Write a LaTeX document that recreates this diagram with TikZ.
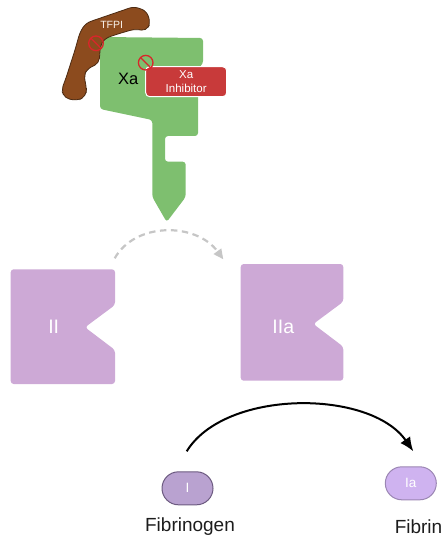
\documentclass[tikz,border=0pt]{standalone}
\usepackage{fontspec}
\setmainfont{Liberation Sans}
\usetikzlibrary{arrows.meta,shapes.misc}

\definecolor{xagreen}{HTML}{7EBF6F}
\definecolor{tfpibrown}{HTML}{8C4B1E}
\definecolor{tfpiedge}{HTML}{4B2A12}
\definecolor{inhred}{HTML}{C83A3A}
\definecolor{nored}{HTML}{D9262A}
\definecolor{prolilac}{HTML}{CDA9D6}
\definecolor{fgnfill}{HTML}{B9A2D0}
\definecolor{fgnedge}{HTML}{6C5A80}
\definecolor{fbnfill}{HTML}{CFB3F0}
\definecolor{fbnedge}{HTML}{9B86B3}
\definecolor{dashgray}{HTML}{C6C6C6}
\definecolor{captext}{HTML}{1C1C1C}

\tikzset{
  nosign/.style={circle, draw=nored, line width=1.3pt, minimum size=14.6pt, inner sep=0pt,
    path picture={\draw[nored, line width=1.3pt]
      (path picture bounding box.north west) -- (path picture bounding box.south east);}},
  inhbox/.style={rectangle, rounded corners=4pt, fill=inhred, draw=white, line width=1pt,
    minimum width=81pt, minimum height=30pt, inner sep=0pt, align=center, text=white,
    font=\fontsize{11.5}{14.5}\selectfont},
  protext/.style={text=white, inner sep=0pt, font=\fontsize{19.5}{21}\selectfont},
  pill/.style={rounded rectangle, line width=1pt, minimum width=51pt, minimum height=33pt,
    inner sep=0pt, text=white, font=\fontsize{13.5}{15}\selectfont},
  caption/.style={text=captext, inner sep=0pt, font=\fontsize{19}{22}\selectfont},
  protein/.style={fill=prolilac, rounded corners=3pt},
}

\begin{document}
\begin{tikzpicture}[x=1pt, y=-1pt]
\useasboundingbox (0,0) rectangle (442,537);

% factor Xa body with its stem and notch
\fill[xagreen, rounded corners=3pt]
  (100,37) -- (203,38) -- (203,64) -- (198,68) -- (198,136) -- (165,136)
  -- (165,161.7) -- (185.7,161.7) -- (185.7,197) -- (166.7,222) -- (152.3,197)
  -- (152.3,120) -- (100,109) -- cycle;

% TFPI wrapped over the top-left corner
\filldraw[fill=tfpibrown, draw=tfpiedge, line width=0.8pt, rounded corners=5pt]
  (86,23) -- (134,6.5) -- (146.5,11) -- (150.5,23) -- (146,31) -- (135,29)
  -- (120,33.3) -- (105,38.3) -- (100.5,45) -- (99,63.3) -- (87,69)
  -- (84,76) -- (86.5,88) -- (86,96) -- (78,100.5) -- (65,98.5) -- (61.5,90)
  -- (66,78) -- (75,50) -- (80,32) -- cycle;

\node[text=white!90!brown, inner sep=0pt, font=\fontsize{10.5}{12}\selectfont] (tfpi) at (111.7,25) {TFPI};
\node[text=black, inner sep=0pt, font=\fontsize{16.5}{18}\selectfont] (xa) at (128.3,79) {Xa};

\node[inhbox] (inh) at (186.2,81.7) {Xa\\Inhibitor};

\node[nosign] (blockA) at (96,43.3) {};
\node[nosign] (blockB) at (145.7,62.7) {};

% prothrombin and thrombin
\fill[protein] (10.7,269.3) -- (115,269.3) -- (115,305) -- (85,327.3) -- (115,350)
  -- (115,384) -- (10.7,384) -- cycle;
\fill[protein] (240.7,264) -- (343.3,264) -- (343.3,301.7) -- (313.3,324)
  -- (343.3,346.7) -- (343.3,380.7) -- (240.7,380.7) -- cycle;
\node[protext] (ii) at (53.7,326.7) {II};
\node[protext] (iia) at (283.3,326.7) {IIa};

\coordinate (dashA) at ([xshift=61pt,yshift=68.4pt]ii.center);
\coordinate (dashB) at ([xshift=-60pt,yshift=67.4pt]iia.center);
\draw[dashgray, line width=2.2pt, dash pattern=on 6.5pt off 4.5pt,
      -{Triangle[length=10pt,width=9pt]}]
  (dashA) .. controls (135,222) and (196,222) .. (dashB);

% fibrinogen and fibrin
\node[pill, fill=fgnfill, draw=fgnedge] (fgn) at (187.5,488.3) {I};
\node[pill, fill=fbnfill, draw=fbnedge] (fbn) at (410.8,483.3) {Ia};
\node[caption] (fgnlab) at (190,527) {Fibrinogen};
\node[caption] (fbnlab) at (418.5,527) {Fibrin};

\coordinate (arcA) at ([xshift=-0.8pt,yshift=20pt]fgn.north);
\coordinate (arcB) at ([xshift=2.5pt,yshift=15pt]fbn.north);
\draw[black, line width=2pt, -{Latex[length=14pt,width=12pt]}]
  (arcA) .. controls (225,389) and (370,389) .. (arcB);
\end{tikzpicture}
\end{document}
